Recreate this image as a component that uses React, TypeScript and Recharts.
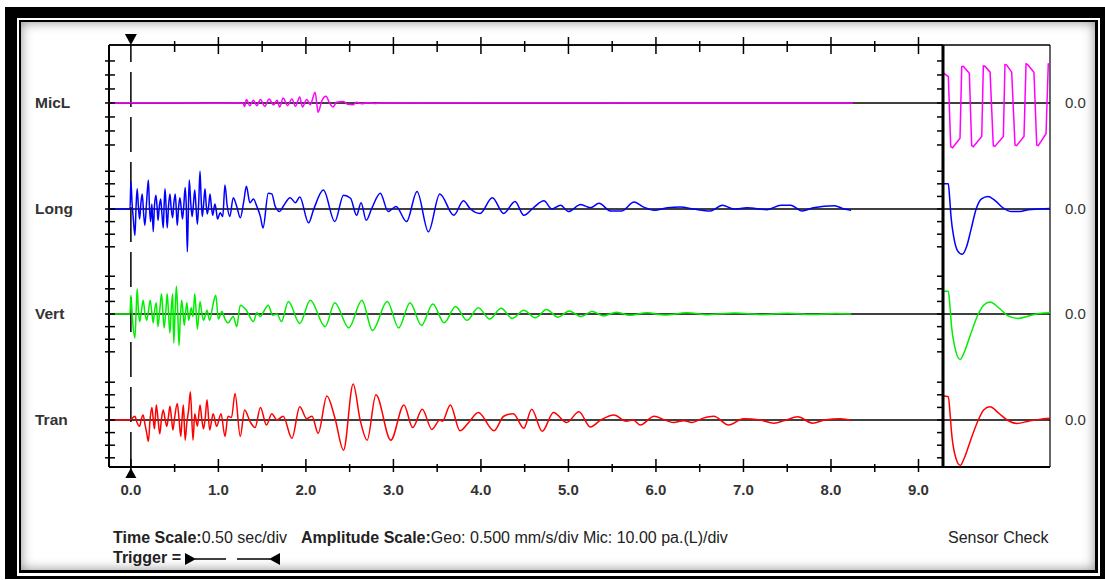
import { LineChart, Line, XAxis, YAxis, ReferenceLine } from 'recharts'

const FONT = "'Liberation Sans', Arial, Helvetica, sans-serif"

const traceNames = ['MicL', 'Long', 'Vert', 'Tran']
const traceIds = ['micl', 'long', 'vert', 'tran']
const traceColors = ['#ff00ff', '#0000ff', '#00ee00', '#ff0000']
// each trace gets its own amplitude axis (divisions), baseline at 0
const traceDomains: [number, number][] = [
  [-26.0, 4.14],
  [-20.48, 13.02],
  [-12.14, 21.35],
  [-3.73, 29.76],
]
const divTicks = [-3, -2, -1, 0, 1, 2, 3]
const timeTicks = [0, 0.5, 1, 1.5, 2, 2.5, 3, 3.5, 4, 4.5, 5, 5.5, 6, 6.5, 7, 7.5, 8, 8.5, 9]
const timeDomain: [number, number] = [-0.25, 9.28]

// event record, [sec, div]
const micL: [number, number][] = [
  [-0.25, 0], [0.5, 0.02], [1.0, -0.02], [1.28, 0],
  [1.3, -0.25], [1.32, 0.24], [1.36, -0.19], [1.4, 0.19], [1.44, -0.19], [1.48, 0.24],
  [1.53, -0.24], [1.58, 0.29], [1.63, -0.14], [1.67, 0.19], [1.7, -0.29], [1.74, 0.36],
  [1.79, -0.19], [1.84, 0.29], [1.88, -0.24], [1.93, 0.43], [1.96, -0.29], [2.01, 0.24],
  [2.05, -0.12], [2.105, 0.76], [2.14, -0.67], [2.18, 0.12], [2.23, 0.48], [2.27, 0],
  [2.31, -0.29], [2.35, 0.05], [2.43, 0.1], [2.48, -0.1], [2.54, -0.12], [2.58, 0.05],
  [2.64, -0.05], [2.7, 0.02], [2.78, -0.04], [2.85, 0], [4.0, 0.02], [6.0, 0], [8.25, 0],
]

const long: [number, number][] = [
  [-0.25, 0], [-0.01, 0],
  [0.0, 2.2], [0.014, 0.4], [0.027, -0.7], [0.046, -2.1], [0.06, 0.3], [0.072, 1.6],
  [0.086, 0.2], [0.1, -0.8], [0.115, 0.5], [0.13, 1.2], [0.145, -0.3], [0.16, -1.3],
  [0.18, 0.6], [0.2, 2.3], [0.212, 0.2], [0.225, -1.0], [0.24, 0.4], [0.255, -1.8],
  [0.27, 0.3], [0.286, 1.1], [0.3, 0.1], [0.31, -0.9], [0.325, 0.2], [0.34, 0.8],
  [0.355, -0.4], [0.37, -1.5], [0.38, 0.3], [0.39, 1.6], [0.403, 0.1], [0.415, -1.5],
  [0.43, 0.2], [0.446, 1.2], [0.46, 0.1], [0.477, -0.7], [0.49, 0.4], [0.507, 1.2],
  [0.52, -0.2], [0.53, -1.3], [0.545, 0.1], [0.56, 0.9], [0.575, 0.1], [0.59, -0.8],
  [0.605, 0.3], [0.62, 1.7], [0.633, 0.2], [0.645, -3.4], [0.656, -0.4], [0.667, 2.3],
  [0.684, 0.5], [0.7, -0.6], [0.715, 0.4], [0.73, 1.5], [0.745, 0.1], [0.76, -1.2],
  [0.775, 0.5], [0.79, 3.0], [0.803, 0.8], [0.816, -0.6], [0.83, 0.3], [0.847, 1.6],
  [0.86, 0.4], [0.873, -0.4], [0.89, 0.3], [0.904, 1.2], [0.92, 0.2], [0.935, -0.5],
  [0.96, 0.4], [0.975, -0.1], [0.99, -0.8], [1.02, -0.3], [1.05, -0.6], [1.075, 1.9],
  [1.1, 0.3], [1.13, -0.6], [1.17, 0.9], [1.21, 0.2], [1.25, -0.7], [1.29, 0.6],
  [1.32, 1.8], [1.36, 0.5], [1.4, 0.8], [1.44, 0.2], [1.48, -0.6], [1.51, -1.5],
  [1.57, 1.25], [1.61, 1.2], [1.65, 0.2], [1.7, -0.2], [1.74, 0.2], [1.82, 0.9],
  [1.88, 0.5], [1.93, 0.95], [2.03, -1.1], [2.09, 0], [2.2, 1.5], [2.33, -1.0],
  [2.43, 1.1], [2.51, 0.85], [2.58, -0.5], [2.63, 0.5], [2.69, -0.9], [2.75, 0],
  [2.85, 1.25], [2.94, -0.2], [3.03, 0.2], [3.15, -1.0], [3.27, 1.4], [3.4, -1.8],
  [3.53, 1.2], [3.69, -0.5], [3.8, 0.65], [3.88, 0], [3.99, -0.35], [4.13, 0.9],
  [4.26, -0.35], [4.39, 0.6], [4.49, -0.5], [4.6, 0.1], [4.72, 0.65], [4.81, 0],
  [4.91, 0.3], [5.0, -0.2], [5.14, 0.35], [5.25, 0.1], [5.35, 0.45], [5.48, -0.15],
  [5.61, -0.15], [5.75, 0.55], [5.86, 0.15], [5.98, -0.1], [6.13, 0.1], [6.28, 0.15],
  [6.43, 0], [6.62, -0.15], [6.76, 0.3], [6.89, 0], [7.04, 0.1], [7.27, -0.05],
  [7.43, 0.3], [7.54, 0.3], [7.67, -0.15], [7.8, 0.1], [8.04, 0.25], [8.15, 0],
  [8.23, -0.1],
]

const vert: [number, number][] = [
  [-0.25, 0], [-0.01, 0],
  [0.0, 1.5], [0.019, -0.5], [0.046, -1.9], [0.06, 0.2], [0.072, 2.0], [0.086, 0.3],
  [0.1, -0.6], [0.12, 0.2], [0.14, 1.1], [0.16, 0.1], [0.18, -0.5], [0.2, 0.2],
  [0.22, 1.1], [0.24, 0.1], [0.255, -0.7], [0.27, 0.2], [0.29, 0.9], [0.31, -1.0],
  [0.33, 0.3], [0.35, 1.6], [0.365, 0.2], [0.38, -1.1], [0.4, 0.3], [0.415, 1.6],
  [0.43, 0.1], [0.446, -1.5], [0.46, 0.2], [0.477, 1.6], [0.49, -2.3], [0.505, 0.1],
  [0.52, 2.2], [0.535, 0.2], [0.55, -2.5], [0.565, -0.3], [0.58, 1.1], [0.595, 0.2],
  [0.61, -0.9], [0.625, 0.1], [0.64, 0.9], [0.66, -0.5], [0.69, 0.5], [0.71, -0.2],
  [0.73, 1.6], [0.76, -1.2], [0.79, 1.0], [0.81, 0.1], [0.83, -0.5], [0.87, 0.3],
  [0.9, -0.5], [0.94, 0.8], [0.97, 1.5], [1.0, -0.4], [1.04, 0.2], [1.075, -0.4],
  [1.11, -0.7], [1.17, -0.2], [1.21, -1.0], [1.25, 0.7], [1.32, 0.3], [1.4, -0.6],
  [1.44, 0.1], [1.48, -0.2], [1.51, 0.1], [1.57, 0.7], [1.62, -0.1], [1.67, 0],
  [1.72, -0.6], [1.8, 1.0], [1.93, -0.75], [2.05, 1.1], [2.22, -1.0], [2.33, 0.9],
  [2.49, -1.1], [2.64, 1.1], [2.76, -1.3], [2.93, 1.0], [3.06, -1.1], [3.19, 0.9],
  [3.32, -0.9], [3.45, 0.8], [3.58, -0.7], [3.71, 0.6], [3.84, -0.5], [3.97, 0.5],
  [4.1, -0.4], [4.23, 0.45], [4.36, -0.35], [4.49, 0.3], [4.62, -0.3], [4.75, 0.35],
  [4.88, -0.25], [5.01, 0.25], [5.14, -0.2], [5.27, 0.2], [5.4, -0.15], [5.55, 0.15],
  [5.7, -0.1], [5.9, 0.1], [6.1, -0.08], [6.35, 0.1], [6.6, -0.05], [6.9, 0.08],
  [7.2, -0.05], [7.5, 0.06], [7.8, -0.04], [8.05, 0.05], [8.23, 0],
]

const tran: [number, number][] = [
  [-0.25, 0], [-0.01, 0],
  [0.046, 0.3], [0.07, -0.2], [0.1, -0.5], [0.12, 0.1], [0.14, 0.4], [0.16, -0.3],
  [0.18, -1.0], [0.2, -1.7], [0.22, 0.1], [0.24, 1.0], [0.255, 0.1], [0.27, -0.7],
  [0.29, 1.2], [0.31, 0.1], [0.33, -1.1], [0.35, 0.1], [0.37, 0.8], [0.39, 0.1],
  [0.41, -0.5], [0.43, 0.3], [0.446, 1.1], [0.465, 0.1], [0.48, -0.8], [0.5, 0.2],
  [0.53, 1.3], [0.55, 0.1], [0.57, -1.3], [0.585, 0.1], [0.6, 1.2], [0.62, -1.6],
  [0.64, -0.2], [0.66, 0.8], [0.68, 2.25], [0.71, -1.6], [0.73, 0.5], [0.76, -0.5],
  [0.79, 1.2], [0.81, 0.1], [0.83, -0.7], [0.85, 0.2], [0.87, 1.6], [0.9, -0.8],
  [0.94, 0.5], [0.98, -0.5], [1.03, 0.5], [1.075, -1.3], [1.11, 0.3], [1.15, 0.2],
  [1.19, 2.1], [1.25, -1.3], [1.3, 0.8], [1.36, -0.1], [1.42, -0.6], [1.48, 1.0],
  [1.55, -0.4], [1.61, 0.5], [1.67, 0], [1.74, 0.3], [1.84, -1.45], [1.93, 1.05],
  [2.01, 0.1], [2.07, 0.3], [2.14, -1.05], [2.24, 1.9], [2.33, 0.2], [2.43, -2.4],
  [2.54, 2.85], [2.62, 0], [2.7, -1.6], [2.8, 2.0], [2.97, -1.6], [3.12, 1.2],
  [3.22, -0.6], [3.33, 0.85], [3.44, -0.75], [3.53, 0], [3.56, -0.1], [3.65, 1.2],
  [3.76, -0.85], [3.86, -0.2], [3.97, 0.6], [4.15, -0.85], [4.26, 0.3], [4.37, 0.5],
  [4.49, -0.65], [4.58, 0.85], [4.7, -0.9], [4.83, 0.6], [4.98, -0.2], [5.12, 0.65],
  [5.25, -0.55], [5.37, 0], [5.52, 0.4], [5.66, -0.1], [5.74, 0], [5.82, -0.4],
  [5.98, 0.3], [6.1, 0], [6.2, -0.2], [6.32, -0.05], [6.41, -0.2], [6.54, 0.15],
  [6.66, 0.3], [6.83, -0.4], [7.0, 0.1], [7.19, 0], [7.35, -0.25], [7.47, -0.05],
  [7.62, 0.25], [7.79, -0.25], [7.93, 0], [8.11, 0.1], [8.23, -0.05],
]

// sensor check pulses, [fraction of window, div]
const micLCheck: [number, number][] = [
  [0, 2.16], [0.05, 1.88], [0.072, -3.12], [0.09, -3.2], [0.159, -2.52], [0.175, 2.59],
  [0.19, 2.62], [0.246, 2.12], [0.268, -3.05], [0.283, -3.12], [0.362, -2.4], [0.377, 2.64],
  [0.392, 2.62], [0.44, 2.2], [0.47, -3.05], [0.485, -3.1], [0.564, -2.4], [0.579, 2.74],
  [0.594, 2.72], [0.642, 2.2], [0.673, -3.0], [0.688, -3.05], [0.757, -2.4], [0.776, 2.79],
  [0.79, 2.75], [0.85, 2.2], [0.876, -3.0], [0.89, -3.05], [0.963, -2.2], [0.984, 2.79],
  [1.0, 2.8],
]
const longCheck: [number, number][] = [
  [0, 2.0], [0.05, 2.0], [0.062, 0.9], [0.075, -0.6], [0.1, -2.2], [0.135, -3.3],
  [0.18, -3.6], [0.22, -3.0], [0.26, -1.7], [0.31, 0], [0.36, 0.8], [0.42, 1.0],
  [0.49, 0.65], [0.56, 0.1], [0.64, -0.2], [0.72, -0.2], [0.8, -0.05], [0.9, 0], [1.0, 0.05],
]
const vertCheck: [number, number][] = [
  [0, 1.8], [0.05, 1.8], [0.065, 0.6], [0.08, -1.0], [0.11, -2.6], [0.16, -3.6],
  [0.2, -3.0], [0.25, -1.8], [0.33, 0], [0.38, 0.7], [0.44, 0.95], [0.52, 0.5],
  [0.6, -0.1], [0.7, -0.35], [0.8, -0.15], [0.9, 0.05], [1.0, 0.1],
]
const tranCheck: [number, number][] = [
  [0, 1.9], [0.05, 1.85], [0.065, 0.6], [0.08, -1.0], [0.11, -2.7], [0.16, -3.6],
  [0.2, -3.0], [0.25, -1.8], [0.33, 0], [0.38, 0.8], [0.44, 1.05], [0.52, 0.55],
  [0.6, 0], [0.69, -0.27], [0.8, -0.1], [0.9, 0.05], [1.0, 0.13],
]

const eventTraces = [micL, long, vert, tran]
const checkTraces = [micLCheck, longCheck, vertCheck, tranCheck]

const toRows = (pts: [number, number][]) => pts.map(([t, v]) => ({ t, v }))

function bottomTick(props: any) {
  const { x, payload } = props
  const v = payload.value as number
  const major = Number.isInteger(v)
  return (
    <g>
      <line x1={x} x2={x} y1={major ? 459 : 464} y2={472} stroke="#000" strokeWidth={1.5} />
      {major && (
        <text x={x} y={495} textAnchor="middle" fontFamily={FONT} fontSize={15} fontWeight="bold" fill="#333">
          {v.toFixed(1)}
        </text>
      )}
      {v === 0 && <polygon points={`${x},468 ${x - 5.5},478 ${x + 5.5},478`} fill="#000" />}
    </g>
  )
}

function topTick(props: any) {
  const { x, payload } = props
  const v = payload.value as number
  if (v === 0) return <polygon points={`${x - 6},34 ${x + 6},34 ${x},45`} fill="#000" />
  const major = Number.isInteger(v)
  return <line x1={x} x2={x} y1={major ? 37 : 41} y2={major ? 54 : 52} stroke="#000" strokeWidth={1.5} />
}

function leftTick(label: string | null, x0: number, x1: number) {
  return (props: any) => {
    const { y, payload } = props
    return (
      <g>
        <line x1={x0} x2={x1} y1={y} y2={y} stroke="#000" strokeWidth={1.5} />
        {label && payload.value === 0 && (
          <text x={35} y={y + 5} fontFamily={FONT} fontSize={15.5} fontWeight="bold" fill="#333">
            {label}
          </text>
        )}
      </g>
    )
  }
}

function Frame() {
  return (
    <>
      <div
        style={{
          position: 'absolute', left: 5, top: 7, width: 1100, height: 572, boxSizing: 'border-box',
          borderStyle: 'solid', borderColor: '#000', borderWidth: '11px 5px 3px 12px',
        }}
      />
      <div
        style={{
          position: 'absolute', left: 19, top: 20, width: 1079, height: 553, boxSizing: 'border-box',
          borderStyle: 'solid', borderColor: '#000', borderWidth: '2px 3px 3px 2px',
          boxShadow: 'inset 0 0 12px rgba(0,0,0,0.45)', background: '#fff',
        }}
      />
    </>
  )
}

function TriggerMark() {
  return (
    <svg width={100} height={14} style={{ verticalAlign: 'middle', marginLeft: 4 }}>
      <polygon points="0,1 0,13 11,7" fill="#000" />
      <line x1={10} x2={41} y1={7} y2={7} stroke="#000" strokeWidth={1.5} />
      <line x1={52} x2={85} y1={7} y2={7} stroke="#000" strokeWidth={1.5} />
      <polygon points="95,1 95,13 84,7" fill="#000" />
    </svg>
  )
}

export default function App() {
  return (
    <div style={{ position: 'absolute', left: 0, top: 0, width: 1105, height: 580, background: '#fff', overflow: 'hidden' }}>
      <Frame />
      <LineChart
        width={1105}
        height={580}
        margin={{ top: 44, right: 162, bottom: 83, left: 105 }}
        style={{ position: 'absolute', left: 0, top: 0 }}
      >
        <XAxis
          xAxisId="b"
          type="number"
          dataKey="t"
          domain={timeDomain}
          allowDataOverflow
          ticks={timeTicks}
          interval={0}
          height={30}
          axisLine={{ stroke: '#000', strokeWidth: 2 }}
          tickLine={false}
          tick={bottomTick}
        />
        <XAxis
          xAxisId="top"
          orientation="top"
          type="number"
          dataKey="t"
          domain={timeDomain}
          allowDataOverflow
          ticks={timeTicks}
          interval={0}
          height={1}
          axisLine={{ stroke: '#000', strokeWidth: 1.5 }}
          tickLine={false}
          tick={topTick}
        />
        {traceIds.map((id, i) => (
          <YAxis
            key={id}
            yAxisId={id}
            type="number"
            domain={traceDomains[i]}
            allowDataOverflow
            ticks={divTicks}
            interval={0}
            width={1}
            axisLine={false}
            tickLine={false}
            tick={leftTick(traceNames[i], 105, 115)}
          />
        ))}
        <ReferenceLine xAxisId="b" yAxisId="micl" x={timeDomain[0]} stroke="#000" strokeWidth={2} />
        <ReferenceLine xAxisId="b" yAxisId="micl" y={traceDomains[0][1]} stroke="#000" strokeWidth={1.5} />
        {traceIds.map((id) => (
          <ReferenceLine key={`base-${id}`} xAxisId="b" yAxisId={id} y={0} stroke="#000" strokeWidth={1.5} />
        ))}
        <ReferenceLine xAxisId="b" yAxisId="micl" x={0} stroke="#000" strokeWidth={1.5} strokeDasharray="35 10" />
        {traceIds.map((id, i) => (
          <Line
            key={`ev-${id}`}
            xAxisId="b"
            yAxisId={id}
            data={toRows(eventTraces[i])}
            dataKey="v"
            type="monotone"
            stroke={traceColors[i]}
            strokeWidth={1.5}
            dot={false}
            isAnimationActive={false}
          />
        ))}
      </LineChart>

      <LineChart
        width={1105}
        height={580}
        margin={{ top: 44, right: 54, bottom: 112, left: 939 }}
        style={{ position: 'absolute', left: 0, top: 0 }}
      >
        <XAxis xAxisId="c" type="number" dataKey="t" domain={[0, 1]} allowDataOverflow height={1} tick={false} tickLine={false} axisLine={{ stroke: '#000', strokeWidth: 2 }} />
        <XAxis xAxisId="ctop" orientation="top" type="number" dataKey="t" domain={[0, 1]} allowDataOverflow height={1} tick={false} tickLine={false} axisLine={false} />
        <YAxis yAxisId="cframe" orientation="right" type="number" domain={[0, 1]} width={1} tick={false} tickLine={false} axisLine={false} />
        {traceIds.map((id, i) => (
          <YAxis
            key={`c-${id}`}
            yAxisId={`c-${id}`}
            type="number"
            domain={traceDomains[i]}
            allowDataOverflow
            ticks={divTicks}
            interval={0}
            width={1}
            axisLine={false}
            tickLine={false}
            tick={leftTick(null, 937, 943)}
          />
        ))}
        <ReferenceLine xAxisId="c" yAxisId="c-micl" y={traceDomains[0][1]} stroke="#000" strokeWidth={1.5} />
        <ReferenceLine xAxisId="c" yAxisId="c-micl" x={1} stroke="#000" strokeWidth={1.2} />
        {traceIds.map((id) => (
          <ReferenceLine
            key={`cbase-${id}`}
            xAxisId="c"
            yAxisId={`c-${id}`}
            y={0}
            stroke="#000"
            strokeWidth={1.5}
            label={{ value: '0.0', position: 'right', offset: 15, fill: '#333', fontSize: 15, fontFamily: FONT }}
          />
        ))}
        {traceIds.map((id, i) => (
          <Line
            key={`ck-${id}`}
            xAxisId="c"
            yAxisId={`c-${id}`}
            data={toRows(checkTraces[i])}
            dataKey="v"
            type={i === 0 ? 'linear' : 'monotone'}
            stroke={traceColors[i]}
            strokeWidth={1.5}
            dot={false}
            isAnimationActive={false}
          />
        ))}
        <ReferenceLine xAxisId="c" yAxisId="c-micl" x={0} stroke="#000" strokeWidth={3} />
      </LineChart>

      <div style={{ position: 'absolute', left: 113, top: 529, fontFamily: FONT, fontSize: 16, color: '#222', whiteSpace: 'pre', lineHeight: '18px' }}>
        <b>Time Scale:</b>0.50 sec/div<span style={{ marginLeft: 14 }} />
        <b>Amplitude Scale:</b>Geo: 0.500 mm/s/div Mic: 10.00 pa.(L)/div
      </div>
      <div style={{ position: 'absolute', left: 113, top: 549, fontFamily: FONT, fontSize: 16, color: '#222', whiteSpace: 'pre', lineHeight: '18px' }}>
        <b>Trigger =</b>
        <TriggerMark />
      </div>
      <div style={{ position: 'absolute', left: 948, top: 529, fontFamily: FONT, fontSize: 16, color: '#222', whiteSpace: 'pre', lineHeight: '18px' }}>
        Sensor Check
      </div>
    </div>
  )
}
